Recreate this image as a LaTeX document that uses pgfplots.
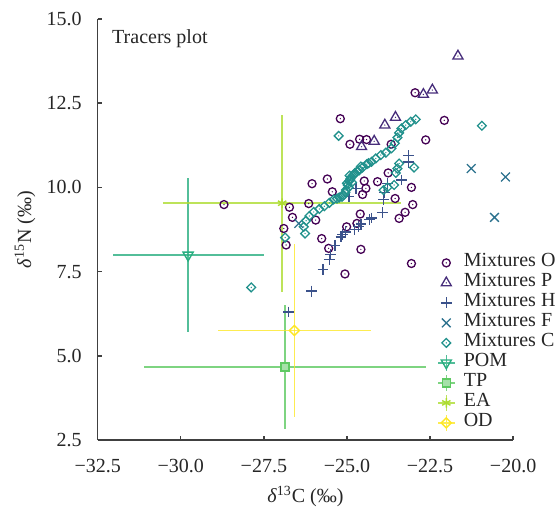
\documentclass[border=0pt]{standalone}
\usepackage{fontspec}
\setmainfont{Liberation Serif}
\usepackage{pgfplots}
\pgfplotsset{compat=1.18}
\definecolor{cO}{HTML}{440154}
\definecolor{cP}{HTML}{472D7B}
\definecolor{cH}{HTML}{3B528B}
\definecolor{cF}{HTML}{2C728E}
\definecolor{cC}{HTML}{21918C}
\definecolor{cPOM}{HTML}{28AE80}
\definecolor{cTP}{HTML}{5EC962}
\definecolor{cEA}{HTML}{ADDC30}
\definecolor{cOD}{HTML}{FDE725}
\pgfdeclareplotmark{odot}{%
 \pgfpathcircle{\pgfpointorigin}{\pgfplotmarksize}\pgfusepathqstroke
 \pgfpathcircle{\pgfpointorigin}{0.35pt}\pgfusepathqfill}
\pgfdeclareplotmark{tridot}{%
 \pgfpathmoveto{\pgfqpoint{0pt}{\pgfplotmarksize}}%
 \pgfpathlineto{\pgfqpointpolar{210}{\pgfplotmarksize}}%
 \pgfpathlineto{\pgfqpointpolar{330}{\pgfplotmarksize}}%
 \pgfpathclose\pgfusepathqstroke
 \pgfpathcircle{\pgfpointorigin}{0.35pt}\pgfusepathqfill}
\pgfdeclareplotmark{diadot}{%
 \pgfpathmoveto{\pgfqpoint{0pt}{\pgfplotmarksize}}%
 \pgfpathlineto{\pgfqpoint{\pgfplotmarksize}{0pt}}%
 \pgfpathlineto{\pgfqpoint{0pt}{-\pgfplotmarksize}}%
 \pgfpathlineto{\pgfqpoint{-\pgfplotmarksize}{0pt}}%
 \pgfpathclose\pgfusepathqstroke
 \pgfpathcircle{\pgfpointorigin}{0.35pt}\pgfusepathqfill}
\pgfdeclareplotmark{dia}{%
 \pgfpathmoveto{\pgfqpoint{0pt}{\pgfplotmarksize}}%
 \pgfpathlineto{\pgfqpoint{\pgfplotmarksize}{0pt}}%
 \pgfpathlineto{\pgfqpoint{0pt}{-\pgfplotmarksize}}%
 \pgfpathlineto{\pgfqpoint{-\pgfplotmarksize}{0pt}}%
 \pgfpathclose\pgfusepathqstroke}
\pgfplotsset{
 mixleg/.style={legend image code/.code={\path[draw=none,fill=none] (0pt,-4pt) (8.3pt,4pt); \draw[##1] plot coordinates {(4.15pt,0pt)};}},
 srcleg/.style={legend image code/.code={\draw[##1,mark=none,line width=0.8pt,opacity=0.8] (0pt,0pt)--(8.3pt,0pt) (4.15pt,-4pt)--(4.15pt,4pt); \draw[##1] plot coordinates {(4.15pt,0pt)};}},
 srcbars/.style={error bars/.cd, x dir=both, x explicit, y dir=both, y explicit, error mark=none, error bar style={line width=0.8pt, opacity=0.8}},
}
\begin{document}
\begin{tikzpicture}
\useasboundingbox (-48.85pt,-34pt) rectangle (231.15pt,220pt);
\begin{axis}[
 scale only axis, width=207.7pt, height=210.5pt,
 xmin=-32.5, xmax=-20, ymin=2.5, ymax=15,
 axis lines=left, axis line style={-, black!75, line width=0.7pt},
 tick align=inside, major tick length=2.2pt, tick style={black!75, line width=0.7pt},
 xtick={-32.5,-30,-27.5,-25,-22.5,-20},
 xticklabels={−32.5,−30.0,−27.5,−25.0,−22.5,−20.0},
 ytick={2.5,5,7.5,10,12.5,15},
 yticklabels={2.5,5.0,7.5,10.0,12.5,15.0},
 xticklabel style={yshift=-5.9pt, text=black!85},
 yticklabel style={xshift=-4.5pt, text=black!85},
 xlabel={\textit{δ}\textsuperscript{13}C (‰)},
 ylabel={\textit{δ}\textsuperscript{15}N (‰)},
 every axis x label/.style={at={(axis description cs:0.5,-0.1496)}, anchor=base, text=black!85},
 every axis y label/.style={at={(axis description cs:-0.1603,0.5)}, rotate=90, anchor=base, text=black!85},
 legend style={draw=none, fill=none, inner sep=0pt, at={(0.8163,0.4454)}, anchor=north west,
   nodes={inner sep=0pt, text height=7pt, text depth=3pt, text=black!85},
   /tikz/every odd column/.append style={column sep=4.2pt}},
 legend cell align=left,
]
\addplot[only marks, mark=odot, mark size=2pt, color=cO, line width=0.65pt, mixleg] coordinates {
(-28.70,9.49) (-26.73,9.41) (-26.15,9.52) (-26.05,10.11) (-25.59,10.25) (-22.95,12.81)
(-25.20,12.04) (-22.07,11.99) (-22.63,11.41) (-24.62,11.43) (-24.41,11.42) (-24.91,11.28)
(-23.67,11.28) (-23.76,10.43) (-24.48,10.19) (-24.43,9.97) (-24.53,9.79) (-24.08,10.17)
(-23.06,10.00) (-23.55,9.67) (-23.02,9.49) (-25.44,9.87) (-26.64,9.11) (-26.90,8.78)
(-26.83,8.29) (-25.94,9.03) (-25.76,8.48) (-25.55,8.19) (-23.25,9.26) (-23.43,9.08)
(-24.60,9.21) (-25.01,8.83) (-24.70,8.93) (-24.58,8.16) (-25.06,7.43) (-23.06,7.74)
};
\addlegendentry{Mixtures O}
\addplot[only marks, mark=tridot, mark size=2.9pt, color=cP, line width=0.65pt, mixleg] coordinates {
(-21.66,13.90) (-22.70,12.76) (-22.43,12.89) (-23.54,12.08) (-23.86,11.85) (-24.18,11.37) (-24.56,11.21)
};
\addlegendentry{Mixtures P}
\addplot[only marks, mark=+, mark size=2.7pt, color=cH, line width=0.65pt, mixleg] coordinates {
(-23.14,10.95) (-23.14,10.75) (-23.35,10.22) (-23.77,10.11) (-23.88,9.85) (-23.89,9.65)
(-23.94,9.25) (-24.26,9.09) (-24.33,9.05) (-24.58,8.91) (-24.66,8.83) (-24.77,8.74)
(-25.05,8.68) (-25.13,8.60) (-25.18,8.53) (-25.36,8.28) (-25.50,8.00) (-25.53,7.86)
(-25.72,7.57) (-26.06,6.92) (-26.76,6.30) (-24.73,9.96) (-24.94,9.73)
};
\addlegendentry{Mixtures H}
\addplot[only marks, mark=x, mark size=3.1pt, color=cF, line width=0.65pt, mixleg] coordinates {
(-21.26,10.56) (-20.23,10.31) (-20.56,9.11) (-26.45,8.93)
};
\addlegendentry{Mixtures F}
\addplot[only marks, mark=diadot, mark size=2.2pt, color=cC, line width=0.65pt, mixleg] coordinates {
(-22.93,12.02) (-23.08,11.95) (-23.23,11.85) (-23.36,11.75) (-23.43,11.62) (-23.48,11.48)
(-23.56,11.31) (-23.66,11.16) (-23.83,11.03) (-23.98,10.96) (-24.13,10.86) (-24.26,10.76)
(-24.40,10.69) (-24.53,10.59) (-24.63,10.51) (-24.76,10.43) (-24.86,10.31) (-24.93,10.19)
(-24.98,10.07) (-25.03,9.92) (-25.10,9.77) (-25.23,9.70) (-25.40,9.64) (-25.53,9.54)
(-25.68,9.44) (-25.83,9.36) (-26.00,9.27) (-26.13,9.15) (-26.23,9.01) (-26.30,8.83)
(-26.26,8.63) (-26.86,8.51) (-27.88,7.03) (-20.94,11.83) (-25.25,11.53) (-22.98,10.59)
(-23.43,10.71) (-23.48,10.56) (-23.53,10.43) (-23.58,10.07) (-23.78,10.00) (-23.90,9.92)
(-25.05,9.85) (-24.95,10.00) (-24.90,10.25) (-24.80,10.37) (-24.70,10.47) (-25.15,9.72)
(-25.30,9.67) (-24.85,10.15) (-24.58,10.62) (-24.35,10.72) (-25.00,10.12) (-24.92,10.35)
};
\addlegendentry{Mixtures C}
\addplot[only marks, mark=triangle, mark size=2.9pt, mark options={rotate=180, solid}, color=cPOM, line width=0.7pt, srcleg, srcbars] coordinates {
(-29.78,7.99) +- (2.27,2.28)
};
\addlegendentry{POM}
\addplot[only marks, mark=square*, mark size=2pt, mark options={fill=cTP!55}, color=cTP, line width=0.7pt, srcleg, srcbars] coordinates {
(-26.87,4.67) +- (4.25,1.83)
};
\addlegendentry{TP}
\addplot[only marks, mark=asterisk, mark size=2.4pt, color=cEA, line width=0.7pt, srcleg, srcbars] coordinates {
(-26.95,9.53) +- (3.58,2.63)
};
\addlegendentry{EA}
\addplot[only marks, mark=dia, mark size=2.5pt, color=cOD, line width=0.7pt, srcleg, srcbars] coordinates {
(-26.58,5.75) +- (2.29,2.58)
};
\addlegendentry{OD}
\node[anchor=north west, inner sep=0pt, text=black!85] at (rel axis cs:0.034,0.975) {Tracers plot};
\end{axis}
\end{tikzpicture}
\end{document}
